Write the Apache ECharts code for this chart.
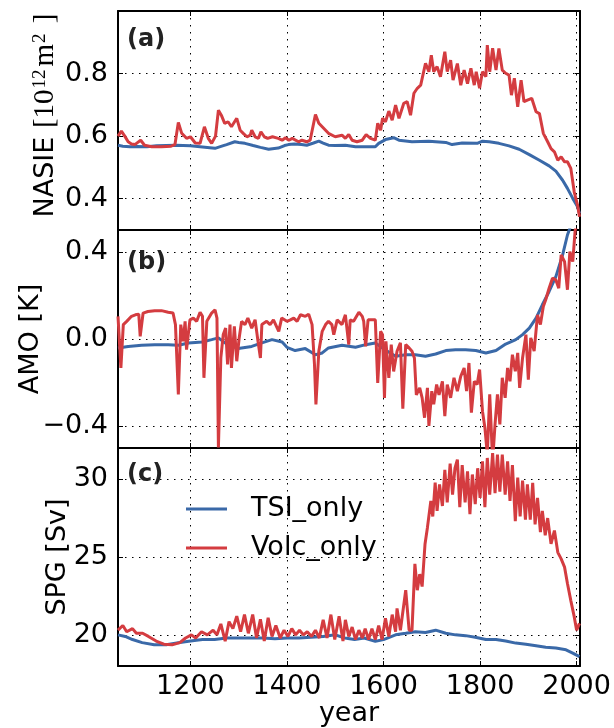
<!DOCTYPE html>
<html><head><meta charset="utf-8">
<script src="https://cdn.jsdelivr.net/npm/echarts@6/dist/echarts.min.js"></script>
<style>html,body{margin:0;padding:0;background:#fff}#c{width:614px;height:728px}</style>
</head><body><div id="c"></div>
<script>
// ---------- data ----------
const yearTicks = [1200, 1400, 1600, 1800, 2000];
const nasieTicks = [0.4, 0.6, 0.8];
const amoTicks = [-0.4, 0.0, 0.4];
const spgTicks = [20, 25, 30];
const seriesNames = ['TSI_only', 'Volc_only'];
const panelLabels = ['(a)', '(b)', '(c)'];

// (a) NASIE
const nasieTsiYears = [1050,1060,1075,1090,1110,1130,1150,1170,1185,1200,
1220,1240,1251,1265,1275,1292,1300,1313,1330,1345,
1362,1370,1382,1395,1403,1415,1430,1441,1455,1466,
1475,1486,1500,1521,1542,1563,1583,1590,1604,1621,
1632,1659,1694,1729,1742,1763,1794,1805,1819,1839,
1860,1881,1902,1923,1943,1957,1971,1981,1992,2002,2006];
const nasieTsiVals = [0.571,0.568,0.566,0.567,0.566,0.569,0.570,0.571,0.570,0.569,
0.566,0.563,0.561,0.568,0.573,0.582,0.580,0.577,0.570,0.564,
0.558,0.560,0.562,0.570,0.573,0.575,0.573,0.571,0.578,0.584,
0.578,0.571,0.570,0.571,0.566,0.566,0.566,0.577,0.589,0.595,
0.587,0.582,0.584,0.580,0.573,0.578,0.577,0.584,0.582,0.577,
0.569,0.558,0.541,0.523,0.505,0.488,0.459,0.433,0.401,0.374,0.353];

const nasieVolcYears = [1050,1057,1064,1071,1078,1085,1091,1097,1105,1120,
1140,1160,1168,1175,1182,1192,1200,1210,1220,1229,
1237,1244,1252,1258,1264,1271,1278,1285,1296,1303,
1310,1317,1324,1327,1334,1341,1346,1353,1360,1370,
1382,1390,1397,1404,1411,1424,1431,1441,1448,1452,
1459,1466,1476,1486,1500,1514,1521,1528,1535,1545,
1556,1564,1573,1583,1588,1594,1598,1604,1611,1618,
1625,1632,1642,1649,1656,1663,1670,1677,1687,1694,
1699,1704,1711,1718,1727,1732,1739,1744,1753,1760,
1767,1774,1781,1788,1792,1799,1805,1812,1815,1820,
1826,1833,1839,1846,1853,1860,1865,1871,1878,1885,
1891,1898,1907,1916,1923,1931,1940,1947,1954,1961,
1968,1975,1981,1988,1995,2002,2006];
const nasieVolcVals = [0.600,0.616,0.600,0.582,0.575,0.573,0.580,0.587,0.571,0.566,
0.566,0.568,0.573,0.644,0.609,0.593,0.598,0.578,0.577,0.630,
0.593,0.577,0.600,0.683,0.667,0.641,0.646,0.630,0.657,0.619,
0.608,0.598,0.603,0.619,0.598,0.593,0.614,0.598,0.593,0.598,
0.593,0.587,0.595,0.587,0.593,0.582,0.587,0.582,0.587,0.585,
0.669,0.641,0.625,0.609,0.598,0.603,0.593,0.605,0.587,0.582,
0.587,0.605,0.593,0.587,0.641,0.619,0.657,0.646,0.680,0.651,
0.699,0.657,0.705,0.710,0.667,0.737,0.753,0.763,0.833,0.806,
0.859,0.806,0.822,0.790,0.870,0.806,0.843,0.779,0.832,0.763,
0.811,0.768,0.817,0.763,0.806,0.753,0.806,0.790,0.891,0.806,
0.881,0.811,0.880,0.811,0.801,0.795,0.731,0.785,0.694,0.779,
0.710,0.715,0.721,0.678,0.672,0.609,0.582,0.560,0.550,0.523,
0.534,0.518,0.518,0.497,0.422,0.379,0.342];

// (b) AMO
const amoTsiYears = [1050,1071,1099,1126,1154,1175,1196,1224,1244,1258,
1272,1299,1327,1348,1369,1390,1400,1417,1438,1459,
1473,1486,1514,1542,1563,1583,1604,1625,1646,1666,
1687,1708,1729,1749,1770,1791,1812,1833,1853,1874,
1888,1902,1916,1929,1943,1957,1971,1981,1988,2000,2006];
const amoTsiVals = [-0.041,-0.034,-0.029,-0.026,-0.026,-0.029,-0.018,-0.014,-0.003,0.005,
-0.018,-0.044,-0.034,-0.018,-0.003,-0.014,-0.038,-0.053,-0.044,-0.072,
-0.064,-0.041,-0.029,-0.038,-0.026,-0.018,-0.050,-0.079,-0.072,-0.072,
-0.079,-0.069,-0.053,-0.049,-0.049,-0.053,-0.064,-0.053,-0.023,-0.003,
0.020,0.050,0.096,0.157,0.218,0.286,0.386,0.477,0.520,0.580,0.610];

const amoVolcYears = [1050,1056,1061,1068,1078,1086,1093,1096,1102,1112,
1126,1140,1154,1164,1169,1175,1180,1185,1189,1192,
1199,1206,1213,1220,1225,1228,1234,1244,1251,1255,
1258,1263,1268,1273,1277,1282,1285,1291,1296,1301,
1306,1313,1319,1327,1334,1340,1345,1348,1358,1365,
1372,1383,1389,1400,1407,1414,1421,1428,1438,1445,
1452,1457,1460,1466,1473,1480,1486,1493,1497,1504,
1514,1521,1528,1531,1538,1549,1556,1559,1563,1568,
1576,1583,1588,1594,1598,1602,1605,1611,1616,1621,
1628,1635,1640,1646,1653,1659,1664,1668,1675,1680,
1685,1691,1694,1700,1704,1710,1715,1722,1727,1732,
1739,1746,1753,1760,1767,1772,1777,1782,1788,1794,
1799,1805,1810,1815,1820,1826,1831,1836,1841,1846,
1852,1857,1862,1867,1873,1878,1882,1888,1895,1900,
1905,1912,1919,1925,1931,1936,1943,1950,1957,1963,
1968,1975,1981,1986,1992,1997,2002,2006];
const amoVolcVals = [0.104,-0.133,0.066,0.081,0.104,0.111,0.114,0.012,0.119,0.126,
0.130,0.130,0.123,0.119,0.066,-0.254,0.066,-0.011,0.081,-0.049,
0.088,0.096,0.081,0.123,0.104,-0.178,0.081,0.119,0.134,0.096,
-0.498,-0.087,0.020,0.050,-0.117,0.066,-0.133,0.058,-0.102,0.005,
0.081,0.066,0.096,0.050,0.088,-0.011,-0.087,0.066,0.081,0.066,
0.088,0.035,0.096,0.081,0.088,0.096,0.081,0.111,0.104,0.114,
0.066,-0.117,-0.300,-0.056,0.035,0.066,0.081,0.066,0.020,0.088,
0.066,0.111,-0.026,0.088,0.081,0.123,0.104,0.081,-0.034,0.088,
0.088,0.088,-0.201,0.035,0.020,-0.270,-0.011,-0.178,-0.026,-0.149,
-0.056,-0.018,-0.320,-0.026,-0.041,-0.056,-0.087,-0.256,-0.224,-0.270,
-0.361,-0.224,-0.399,-0.239,-0.300,-0.209,-0.256,-0.194,-0.354,-0.209,
-0.270,-0.178,-0.239,-0.171,-0.133,-0.239,-0.110,-0.338,-0.194,-0.209,
-0.140,-0.331,-0.407,-0.530,-0.254,-0.560,-0.392,-0.254,-0.392,-0.178,
-0.270,-0.133,-0.194,-0.072,-0.148,-0.064,-0.224,-0.087,0.020,-0.186,
0.005,-0.056,0.111,0.066,0.149,0.180,0.233,0.279,0.271,0.233,
0.386,0.355,0.226,0.401,0.355,0.500,0.530,0.560];

// (c) SPG
const spgTsiYears = [1050,1065,1080,1100,1125,1150,1175,1200,1225,1250,
1275,1300,1325,1350,1375,1400,1425,1450,1475,1500,
1520,1540,1560,1583,1600,1625,1646,1666,1687,1708,
1729,1749,1770,1790,1812,1833,1853,1874,1895,1916,
1936,1957,1978,1992,2006];
const spgTsiVals = [20.0,19.9,19.7,19.5,19.36,19.36,19.5,19.6,19.7,19.7,
19.8,19.8,19.8,19.8,19.75,19.8,19.8,19.85,19.9,20.0,
19.8,19.7,19.8,19.58,19.7,20.0,20.1,20.2,20.15,20.3,
20.1,20.0,19.95,19.85,19.7,19.7,19.6,19.47,19.4,19.3,
19.2,19.15,19.04,18.83,18.6];

const spgVolcYears = [1050,1060,1068,1080,1088,1101,1113,1129,1145,1162,
1178,1190,1202,1211,1223,1235,1247,1255,1263,1272,
1280,1288,1296,1304,1312,1320,1329,1337,1345,1353,
1361,1369,1377,1386,1394,1402,1410,1418,1426,1434,
1442,1451,1459,1467,1475,1483,1491,1499,1508,1516,
1521,1528,1535,1542,1549,1556,1562,1569,1576,1583,
1590,1597,1604,1611,1618,1625,1628,1635,1646,1653,
1659,1665,1670,1675,1680,1686,1691,1698,1702,1707,
1711,1716,1722,1727,1732,1738,1743,1748,1753,1758,
1763,1769,1774,1779,1784,1790,1795,1800,1805,1810,
1815,1820,1826,1831,1836,1841,1846,1852,1857,1862,
1867,1873,1878,1883,1888,1894,1898,1904,1909,1914,
1919,1925,1929,1935,1940,1947,1954,1961,1968,1975,
1981,1988,1995,2000,2006];
const spgVolcVals = [20.3,20.6,20.2,20.4,20.1,20.1,19.9,19.6,19.4,19.36,
19.5,19.8,20.0,19.8,20.2,20.0,20.3,20.0,20.7,19.6,
20.85,20.4,21.2,20.2,21.3,20.1,21.3,19.8,21.0,19.6,
21.1,19.9,20.6,19.8,20.3,19.9,20.4,20.0,20.3,20.0,
20.2,19.9,20.3,19.8,20.96,19.8,21.3,19.7,21.2,19.6,
20.96,19.9,20.5,19.7,20.3,19.8,20.4,19.7,20.4,19.7,
20.6,19.7,21.06,19.9,21.3,20.2,21.7,20.3,22.87,20.3,
20.3,24.56,22.87,23.9,23.1,25.84,26.9,28.6,27.6,29.77,
27.96,29.66,28.28,30.6,28.5,31.0,29.0,30.7,31.25,28.2,
30.9,28.5,30.5,27.75,30.3,28.4,30.7,28.8,31.15,28.2,
31.36,29.0,31.68,29.1,31.57,29.2,31.57,29.0,31.15,28.6,
30.9,27.3,30.1,27.6,29.9,27.4,29.66,27.4,29.77,27.1,
28.8,26.6,27.96,26.4,27.5,25.84,26.7,25.3,24.88,24.35,
23.3,22.2,21.17,20.3,20.74];

// ---------- styling / build ----------
const BLUE = '#3a69a8', RED = '#d43c40';
const FONT = 'DejaVu Sans';
const FS = 27;
const grids = [{top: 11, height: 219}, {top: 230, height: 218}, {top: 448, height: 219}];
const yCfg = [
  {min: 0.3, max: 1.0, step: 0.2, ticks: nasieTicks, dec: 1, gap: 58, pad: [0, 0, 0, 10],
   name: 'NASIE {s|[10}{sup|12}{s|m}{sup|2}{s| ]}'},
  {min: -0.5, max: 0.5, step: 0.4, ticks: amoTicks, dec: 1, gap: 74, pad: 0, name: 'AMO [K]'},
  {min: 18, max: 32, step: 5, ticks: spgTicks, dec: 0, gap: 47, pad: 0, name: 'SPG [Sv]'}
];
function fmt(list, dec) {
  return function (v) {
    for (const t of list) {
      if (Math.abs(v - t) < 1e-6) return (dec ? t.toFixed(dec) : String(t)).replace('-', '\u2212');
    }
    return '';
  };
}
const frameLine = {show: true, onZero: false, lineStyle: {color: '#000', width: 2}};
const tick = {show: true, inside: true, length: 5, lineStyle: {color: '#000', width: 1}};
const dotted = {show: true, lineStyle: {color: '#000', width: 1, type: [1.5, 5.5]}};
const labelFont = {fontSize: FS, color: '#000', fontFamily: FONT};

const xAxes = [], yAxes = [], series = [];
grids.forEach((g, i) => {
  const xBase = {gridIndex: i, type: 'value', min: 1050, max: 2007, splitNumber: 5,
    minInterval: 200, maxInterval: 200, axisLine: frameLine, axisTick: tick};
  xAxes.push(Object.assign({}, xBase, {
    position: 'bottom',
    axisLabel: Object.assign({show: i === 2, formatter: fmt(yearTicks, 0), margin: 7, hideOverlap: false}, labelFont),
    splitLine: dotted,
    name: i === 2 ? 'year' : '', nameLocation: 'middle', nameGap: 34, nameMoveOverlap: false,
    nameTextStyle: {fontSize: FS, color: '#000', fontFamily: FONT}
  }));
  xAxes.push(Object.assign({}, xBase, {position: 'top', axisLabel: {show: false}, splitLine: {show: false}}));
  const c = yCfg[i];
  const yBase = {gridIndex: i, type: 'value', min: c.min, max: c.max, splitNumber: 5,
    minInterval: c.step, maxInterval: c.step, axisLine: frameLine, axisTick: tick};
  yAxes.push(Object.assign({}, yBase, {
    position: 'left',
    axisLabel: Object.assign({formatter: fmt(c.ticks, c.dec), margin: 10}, labelFont),
    splitLine: dotted,
    name: c.name, nameLocation: 'middle', nameRotate: 90, nameGap: c.gap, nameMoveOverlap: false,
    nameTextStyle: {fontSize: FS, color: '#000', fontFamily: FONT, padding: c.pad,
      rich: {
        s: {fontSize: 29, fontFamily: 'Liberation Serif', color: '#000'},
        sup: {fontSize: 19, fontFamily: 'Liberation Serif', color: '#000', verticalAlign: 'top', padding: [0, 3, 0, 1]}
      }}
  }));
  yAxes.push(Object.assign({}, yBase, {position: 'right', axisLabel: {show: false}, splitLine: {show: false}}));
});

function mk(name, years, vals, gi, color) {
  return {
    name: name, type: 'line', xAxisIndex: 2 * gi, yAxisIndex: 2 * gi,
    data: years.map((y, k) => [y, vals[k]]),
    showSymbol: false, symbol: 'none',
    lineStyle: {color: color, width: 3}, itemStyle: {color: color},
    animation: false
  };
}
series.push(mk(seriesNames[0], nasieTsiYears, nasieTsiVals, 0, BLUE));
series.push(mk(seriesNames[1], nasieVolcYears, nasieVolcVals, 0, RED));
series.push(mk(seriesNames[0], amoTsiYears, amoTsiVals, 1, BLUE));
series.push(mk(seriesNames[1], amoVolcYears, amoVolcVals, 1, RED));
series.push(mk(seriesNames[0], spgTsiYears, spgTsiVals, 2, BLUE));
series.push(mk(seriesNames[1], spgVolcYears, spgVolcVals, 2, RED));

const chart = echarts.init(document.getElementById('c'), null, {renderer: 'canvas'});
chart.setOption({
  animation: false,
  backgroundColor: '#fff',
  grid: grids.map(g => ({left: 118, right: 34, top: g.top, height: g.height})),
  xAxis: xAxes,
  yAxis: yAxes,
  legend: {
    data: seriesNames, orient: 'vertical', left: 181, top: 488,
    itemWidth: 41, itemHeight: 3, itemGap: 7, icon: 'rect',
    textStyle: {fontSize: FS, color: '#000', fontFamily: FONT, padding: [0, 0, 0, 19], lineHeight: 32}
  },
  graphic: panelLabels.map((t, i) => ({
    type: 'text', left: 127, top: [28, 251, 463][i], z: 100,
    style: {text: t, fontSize: 24, fontWeight: 'bold', fontFamily: FONT, fill: '#222'}
  })),
  series: series
});
</script></body></html>
